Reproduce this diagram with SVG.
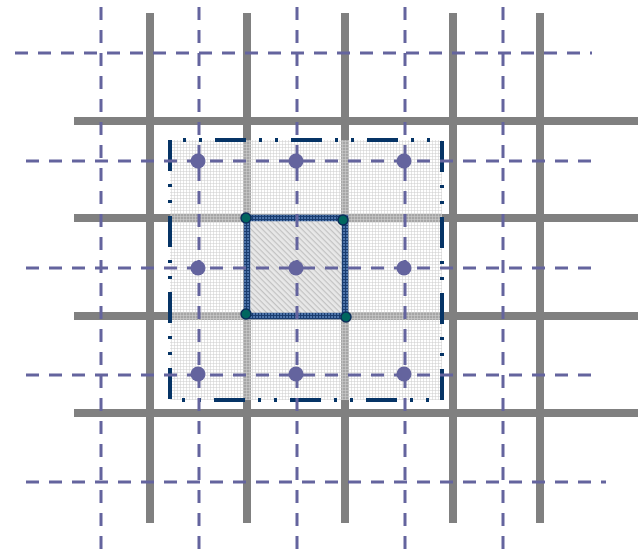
<svg xmlns="http://www.w3.org/2000/svg" width="640" height="558" viewBox="0 0 640 558">
<style>
.g{stroke:#808080;stroke-width:8;fill:none}
.d{stroke:#64649E;stroke-width:3;stroke-dasharray:13 10;fill:none}
.p{fill:#64649E}
.c{fill:#00665F;stroke:#0B2E5A;stroke-width:1.5}
</style>
<defs>
<pattern id="grid" width="3" height="3" patternUnits="userSpaceOnUse">
<rect width="3" height="3" fill="#ffffff" fill-opacity="0.3"/>
<path d="M0 0.5H3M0.5 0V3" stroke="#D0D0D0" stroke-width="1" stroke-opacity="0.55"/>
</pattern>
<pattern id="hatch" width="4" height="4" patternUnits="userSpaceOnUse" patternTransform="rotate(45)">
<rect width="4" height="4" fill="#E8E8E8"/>
<path d="M0 0.5H4" stroke="#C2C2C2" stroke-width="1.4"/>
</pattern>
<pattern id="blue" width="3" height="3" patternUnits="userSpaceOnUse">
<rect width="3" height="3" fill="#5077AD"/>
<path d="M0 0.5H3M0.5 0V3" stroke="#1A3D70" stroke-width="1.2"/>
</pattern>
</defs>
<g id="gray-grid">
<path class="g" d="M150 13V523M247 13V523M345 13V523M453 13V523M540 13V523"/>
<path class="g" d="M74 121H638M74 218H638M74 316H638M74 413H638"/>
</g>
<g id="region">
<path d="M170 140V400H442V140Z" fill="url(#grid)"/>
<path d="M170 140V400H442V140Z" fill="none" stroke="#063466" stroke-width="4" stroke-dasharray="31 13 3 13 3 13"/>
</g>
<g id="cell">
<rect x="247" y="218" width="98" height="98" fill="url(#hatch)" stroke="url(#blue)" stroke-width="6.5"/>
</g>
<g id="connectors">
<path class="d" d="M101 7V558M199 7V558M297 7V558M405 7V558M503 7V558"/>
<path class="d" d="M15 53H592M26 161H592M26 268H592M26 375H592M26 482H606"/>
</g>
<g id="points">
<circle class="p" cx="198" cy="161" r="7.5"/>
<circle class="p" cx="296" cy="161" r="7.5"/>
<circle class="p" cx="404" cy="161" r="7.5"/>
<circle class="p" cx="198" cy="268" r="7.5"/>
<circle class="p" cx="296" cy="268" r="7.5"/>
<circle class="p" cx="404" cy="268" r="7.5"/>
<circle class="p" cx="198" cy="374" r="7.5"/>
<circle class="p" cx="296" cy="374" r="7.5"/>
<circle class="p" cx="404" cy="374" r="7.5"/>
</g>
<g id="corners">
<circle class="c" cx="246" cy="218" r="5"/>
<circle class="c" cx="343" cy="220" r="5"/>
<circle class="c" cx="246" cy="314" r="5"/>
<circle class="c" cx="346" cy="317" r="5"/>
</g>
</svg>
